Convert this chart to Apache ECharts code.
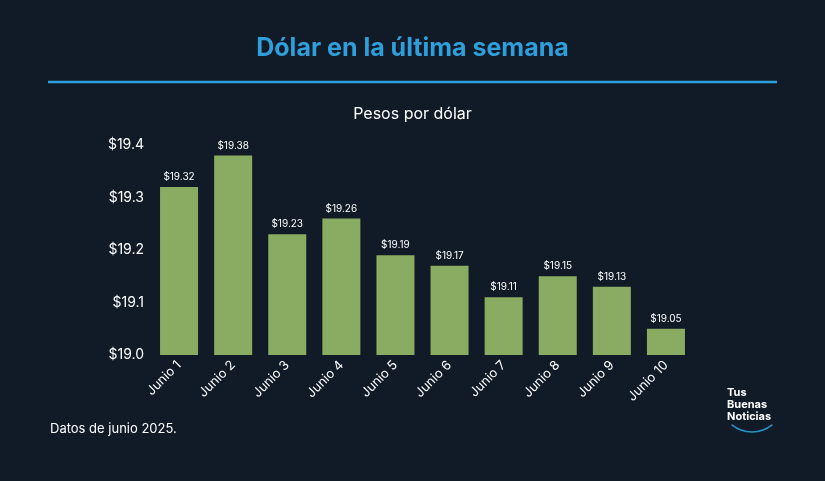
<!DOCTYPE html>
<html><head><meta charset="utf-8">
<script src="https://cdn.jsdelivr.net/npm/echarts@6/dist/echarts.min.js"></script>
<style>html,body{margin:0;background:#111b27}#c{width:825px;height:481px}</style>
</head><body><div id="c"></div>
<script>
const categories = ['Junio 1','Junio 2','Junio 3','Junio 4','Junio 5','Junio 6','Junio 7','Junio 8','Junio 9','Junio 10'];
const values = [19.32, 19.38, 19.23, 19.26, 19.19, 19.17, 19.11, 19.15, 19.13, 19.05];
const yTicks = [19.0, 19.1, 19.2, 19.3, 19.4];

const chart = echarts.init(document.getElementById('c'));
chart.setOption({
    backgroundColor: '#111b27',
    title: [
        {text: 'Dólar en la última semana', left: 'center', top: 31,
         textStyle: {color: '#2f9fdc', fontSize: 25, fontWeight: 'bold', fontFamily: 'Inter'}},
        {text: 'Pesos por dólar', left: 'center', top: 101,
         textStyle: {color: '#ffffff', fontSize: 16, fontWeight: 'normal', fontFamily: 'Inter'}},
        {text: 'Datos de junio 2025.', left: 45, top: 418,
         textStyle: {color: '#ffffff', fontSize: 13, fontWeight: 'normal', fontFamily: 'Inter'}},
        {text: 'Tus\nBuenas\nNoticias', left: 722, top: 382,
         textStyle: {color: '#ffffff', fontSize: 11, lineHeight: 12, fontWeight: 'bold', fontFamily: 'Inter'}}
    ],
    graphic: [
        {type: 'line', shape: {x1: 48, y1: 82, x2: 777, y2: 82}, style: {stroke: '#2f9fdc', lineWidth: 2.5}},
        {type: 'arc', shape: {cx: 752, cy: 400, r: 32, startAngle: Math.PI * 0.28, endAngle: Math.PI * 0.72},
         style: {stroke: '#2a8fc8', lineWidth: 1.5, fill: null}}
    ],
    grid: {left: 152, right: 132, top: 145, bottom: 126},
    xAxis: {
        type: 'category', data: categories,
        axisLine: {show: false}, axisTick: {show: false},
        axisLabel: {color: '#ffffff', rotate: 45, fontSize: 13, margin: 8, fontFamily: 'Inter'}
    },
    yAxis: {
        type: 'value', min: 19.0, max: 19.4, interval: 0.1,
        splitLine: {show: false}, axisLine: {show: false}, axisTick: {show: false},
        axisLabel: {color: '#ffffff', fontSize: 14, fontFamily: 'Inter',
            formatter: v => yTicks.some(t => Math.abs(t - v) < 1e-6) ? '$' + v.toFixed(1) : ''}
    },
    series: [{
        type: 'bar', data: values, barWidth: 38,
        itemStyle: {color: '#8aab62'},
        label: {show: true, position: 'top', color: '#ffffff', fontSize: 10, fontFamily: 'Inter',
            formatter: p => '$' + p.value.toFixed(2)}
    }]
});
</script></body></html>
